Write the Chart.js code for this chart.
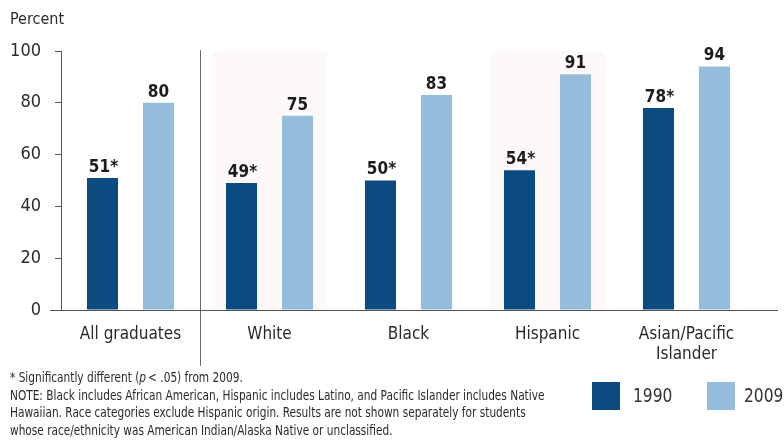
<!DOCTYPE html>
<html>
<head>
<meta charset="utf-8">
<script src="https://cdn.jsdelivr.net/npm/chart.js@4"></script>
<style>
  body { margin: 0; background: #fff; }
  #wrap { position: relative; width: 784px; height: 445px; overflow: hidden; }
  #chart { position: absolute; left: 0; top: 0; }
  #notes {
    position: absolute; left: 10px; top: 369px;
    font-family: "DejaVu Sans Condensed", "Liberation Sans Narrow", sans-serif;
    font-size: 13.5px; line-height: 17.6px; color: #2a2a2a;
    white-space: nowrap; transform: scaleX(0.87); transform-origin: 0 0;
  }
  #legend {
    position: absolute; left: 592px; top: 382px;
    font-family: "DejaVu Sans Condensed", "Liberation Sans Narrow", sans-serif;
    font-size: 20px; color: #333;
  }
  .key { position: absolute; top: 0; width: 28px; height: 28px; }
  .keytext { position: absolute; top: 1px; transform: scaleX(0.86); transform-origin: 0 0; }
</style>
</head>
<body>
<div id="wrap">
  <canvas id="chart" width="784" height="445"></canvas>
  <div id="notes">
    <div>* Significantly different (<i>p</i>&thinsp;&lt; .05) from 2009.</div>
    <div>NOTE: Black includes African American, Hispanic includes Latino, and Pacific Islander includes Native<br>Hawaiian. Race categories exclude Hispanic origin. Results are not shown separately for students<br>whose race/ethnicity was American Indian/Alaska Native or unclassified.</div>
  </div>
  <div id="legend"></div>
</div>
<script>
// chart data
const categories = ["All graduates", "White", "Black", "Hispanic", ["Asian/Pacific", "Islander"]];
const values1990 = [51, 49, 50, 54, 78];
const values2009 = [80, 75, 83, 91, 94];
const significant1990 = [true, true, true, true, true];
const yTicks = [0, 20, 40, 60, 80, 100];

const DARK = "#0c4b80";
const LIGHT = "#94bddb";
const FONT = "'DejaVu Sans Condensed', 'Liberation Sans Narrow', sans-serif";

// html legend
const legendItems = [
    { label: "1990", color: DARK, x: 0, textX: 41 },
    { label: "2009", color: LIGHT, x: 115, textX: 152 },
];
const legendEl = document.getElementById("legend");
legendItems.forEach((item) => {
    const box = document.createElement("div");
    box.className = "key";
    box.style.left = item.x + "px";
    box.style.background = item.color;
    legendEl.appendChild(box);
    const txt = document.createElement("div");
    txt.className = "keytext";
    txt.style.left = item.textX + "px";
    txt.textContent = item.label;
    legendEl.appendChild(txt);
});

// bands, separator, long baseline and value labels
const decorations = {
    id: "decorations",
    beforeDatasetsDraw(chart) {
        const { ctx, chartArea, scales } = chart;
        const x = scales.x;
        const step = x.getPixelForValue(1) - x.getPixelForValue(0);
        ctx.save();
        categories.forEach((c, i) => {
            if (i % 2 === 1) {
                ctx.fillStyle = "rgba(240, 222, 214, 0.18)";
                const cx = x.getPixelForValue(i);
                ctx.fillRect(cx - step / 2 + 12, chartArea.top, step - 24, chartArea.bottom - chartArea.top);
            }
        });
        ctx.restore();
    },
    afterDatasetsDraw(chart) {
        const { ctx, chartArea, scales } = chart;
        const x = scales.x;
        ctx.save();
        // separator after "All graduates"
        const sepX = Math.round((x.getPixelForValue(0) + x.getPixelForValue(1)) / 2) + 0.5;
        ctx.strokeStyle = "#666";
        ctx.lineWidth = 1;
        ctx.beginPath();
        ctx.moveTo(sepX, chartArea.top - 1);
        ctx.lineTo(sepX, 366);
        ctx.stroke();
        // baseline
        const y0 = Math.round(scales.y.getPixelForValue(0)) + 0.5;
        ctx.strokeStyle = "#555";
        ctx.beginPath();
        ctx.moveTo(50, y0);
        ctx.lineTo(778, y0);
        ctx.stroke();
        // value labels
        ctx.font = "bold 17px " + FONT;
        ctx.fillStyle = "#1c1c1c";
        ctx.textAlign = "center";
        ctx.textBaseline = "bottom";
        chart.data.datasets.forEach((ds, di) => {
            chart.getDatasetMeta(di).data.forEach((bar, i) => {
                let txt = String(ds.data[i]);
                if (di === 0 && significant1990[i]) txt += "*";
                ctx.fillText(txt, bar.x + (txt.endsWith("*") ? 1 : 0), bar.y - 2);
            });
        });
        ctx.restore();
    },
};

new Chart(document.getElementById("chart"), {
    type: "bar",
    data: {
        labels: categories,
        datasets: [
            { label: "1990", data: values1990, backgroundColor: DARK },
            { label: "2009", data: values2009, backgroundColor: LIGHT },
        ],
    },
    options: {
        responsive: false,
        animation: false,
        devicePixelRatio: 1,
        categoryPercentage: 0.806,
        barPercentage: 0.554,
        layout: { padding: { top: 51, right: 28, left: 0, bottom: 0 } },
        plugins: {
            legend: { display: false },
            tooltip: { enabled: false },
        },
        scales: {
            x: {
                grid: { display: false },
                border: { display: false },
                ticks: {
                    color: "#2a2a2a",
                    font: { family: FONT, size: 17, lineHeight: 1.2 },
                    padding: 6,
                    maxRotation: 0,
                    autoSkip: false,
                },
                afterFit(s) { s.height = 135; },
            },
            y: {
                min: 0,
                max: 100,
                afterBuildTicks(s) { s.ticks = yTicks.map((v) => ({ value: v })); },
                grid: { drawOnChartArea: false, tickLength: 6, color: "#555" },
                border: { display: true, color: "#555" },
                ticks: {
                    color: "#2a2a2a",
                    font: { family: FONT, size: 18 },
                    padding: 14,
                },
                afterFit(s) { s.width = 61; },
            },
        },
    },
    plugins: [decorations, {
        id: "percentTitle",
        afterDraw(chart) {
            const ctx = chart.ctx;
            ctx.save();
            ctx.font = "16px " + FONT;
            ctx.fillStyle = "#2a2a2a";
            ctx.textAlign = "left";
            ctx.textBaseline = "alphabetic";
            ctx.fillText("Percent", 10, 24);
            ctx.restore();
        },
    }],
});
</script>
</body>
</html>
